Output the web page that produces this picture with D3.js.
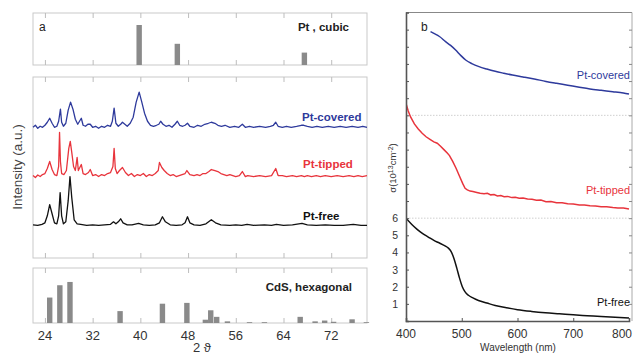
<!DOCTYPE html>
<html>
<head>
<meta charset="utf-8">
<script src="https://cdn.jsdelivr.net/npm/d3@7/dist/d3.min.js"></script>
<style>
  body { margin: 0; background: #fff; }
  svg { display: block; }
  text { font-family: Arial, "Liberation Sans", sans-serif; }
</style>
</head>
<body>
<svg id="chart" width="634" height="354"></svg>
<script>
// ---- panel a: reference patterns ----
const ptCubicPos = [39.8, 46.2, 67.5];
const ptCubicInt = [100, 53, 31];
const cdsPos = [24.8, 26.5, 28.2, 36.6, 43.7, 47.8, 50.9, 51.8, 52.8, 54.6, 58.3, 60.8, 66.8, 69.3, 70.9, 72.4, 75.5, 77.9];
const cdsInt = [62, 92, 100, 29, 47, 49, 8, 31, 15, 4, 2, 2, 15, 4, 6, 3, 9, 2];
const twoThetaTicks = [24, 32, 40, 48, 56, 64, 72];

// ---- panel a: measured XRD traces [2theta, intensity] ----
const ptFreeXrd = [[22,1],[22.8,0.5],[23.5,1.5],[24,3],[24.4,10],[24.8,21],[25.2,12],[25.6,3],[26,2],[26.3,10],[26.55,33],[26.8,10],[27.1,2],[27.5,4],[27.9,25],[28.2,49],[28.5,28],[28.9,6],[29.4,2],[30,1.5],[31,0.5],[32,1],[33,0.5],[34,1],[35,1.5],[35.5,4],[35.9,2],[36.3,4],[36.7,7],[37.1,3],[37.8,1],[38.6,1],[39.7,2.5],[40.5,1],[41.5,0.5],[42.5,1],[43.2,3],[43.7,9],[44.2,4],[45,1],[46,0.5],[47,1],[47.5,3],[47.9,9],[48.3,3],[49,1],[50,0.5],[51,2],[51.9,6],[52.6,3],[53.5,1],[55,0.5],[56,1],[57,0.5],[57.9,1.5],[59,0.5],[60.8,1],[62,0.5],[62.8,1.5],[64,0.5],[65.5,1],[67.1,2.5],[68,1],[69.5,0.5],[71,1],[72.5,0.5],[74,0.5],[75.7,1.5],[77,0.5],[78,0.5]];
const ptTippedXrd = [[22,1],[22.4,-1],[22.8,1.5],[23.2,0],[23.6,2],[24,3],[24.4,8],[24.8,15],[25.2,7],[25.6,2],[26,1],[26.3,10],[26.45,44],[26.6,15],[26.8,3],[27.2,2],[27.6,6],[28,28],[28.25,35],[28.5,24],[28.8,10],[29.1,6],[29.4,19],[29.6,6],[30.1,12],[30.4,3],[30.8,2],[31.3,4],[31.6,7],[32,1],[32.5,2],[33,0],[33.5,2],[34,1],[34.5,3],[35,4],[35.4,10],[35.6,28],[35.8,8],[36.1,3],[36.5,6],[37,9],[37.5,4],[38,1],[38.5,3],[39,0],[39.5,2],[40,1],[40.5,3],[41,0],[41.5,2],[42,1],[42.5,3],[43,6],[43.2,14],[43.6,9],[44,6],[44.5,3],[45,1],[45.5,2],[46,0],[46.5,1],[47,2],[47.5,3],[47.8,6],[48.3,2],[49,1],[49.5,2],[50,1],[50.5,3],[51,3],[51.5,5],[51.9,7],[52.5,6],[53,5],[53.5,3],[54,2],[54.5,1],[55,2],[56,0],[56.6,1],[57.1,5],[57.6,0],[58,1],[59,0],[60,1],[61,0],[62,1],[62.7,8],[63.1,1],[63.8,1],[64.5,0],[65.5,1],[66.2,0],[67,1],[67.5,0],[68,1],[68.7,0],[69.5,1],[70.2,0],[71,1],[72,0],[73,1],[74,0],[75,1],[75.8,0],[76.5,1],[77.2,0],[78,1]];
const ptCoveredXrd = [[22,0],[22.4,2],[22.8,-1],[23.2,1],[23.6,0],[24,2],[24.4,5],[24.8,9],[25.2,4],[25.6,0],[26,1],[26.3,6],[26.6,18],[26.8,5],[27.1,1],[27.5,4],[27.9,17],[28.3,25],[28.7,18],[29.1,8],[29.5,3],[30.1,9],[30.4,2],[30.8,1],[31.2,3],[31.6,3],[32,0],[32.5,1],[33,-1],[33.5,1],[34,0],[34.5,2],[35,1],[35.3,6],[35.6,19],[35.9,4],[36.3,1],[36.7,3],[37,5],[37.4,3],[37.8,1],[38.3,4],[38.8,10],[39.3,25],[39.8,35],[40.2,26],[40.7,14],[41.2,6],[41.7,2],[42.2,1],[42.7,2],[43.1,3],[43.4,6],[43.8,3],[44.3,1],[44.8,2],[45.3,0],[45.8,3],[46.2,6],[46.6,2],[47.1,1],[47.5,2],[47.9,4],[48.3,1],[49,0],[49.6,2],[50.2,1],[50.8,3],[51.4,4],[51.9,5],[52.5,4],[53,2],[53.6,1],[54.2,2],[55,0],[55.8,1],[56.5,0],[57.1,3],[57.6,0],[58.3,1],[59,0],[60,1],[61,0],[61.8,1],[62.3,2],[62.7,5],[63.1,1],[63.8,0],[64.5,1],[65.3,0],[66.2,1],[67,2],[67.4,2],[68,1],[68.8,0],[69.6,1],[70.5,0],[71.5,1],[72.5,0],[73.5,1],[74.5,0],[75.5,1],[76.5,0],[77.3,1],[78,0]];
const xrdSeries = [
  {name: 'Pt-covered', values: ptCoveredXrd, offset: 130, color: '#2e3a9c'},
  {name: 'Pt-tipped', values: ptTippedXrd, offset: 81, color: '#e8343c'},
  {name: 'Pt-free', values: ptFreeXrd, offset: 32, color: '#111'}
];

// ---- panel b: sigma vs wavelength (stacked by 6) ----
const ptFreeAbs = [[400,6.0],[410,5.65],[420,5.35],[430,5.1],[440,4.9],[450,4.7],[460,4.55],[470,4.38],[476,4.25],[481,4.05],[486,3.65],[491,3.1],[496,2.5],[501,2.0],[506,1.7],[512,1.5],[520,1.35],[530,1.2],[545,1.05],[560,0.9],[580,0.77],[600,0.66],[625,0.56],[650,0.48],[675,0.42],[700,0.36],[725,0.31],[750,0.26],[775,0.22],[800,0.18]];
const ptTippedAbs = [[400,6.7],[404,6.25],[408,5.92],[415,5.5],[422,5.2],[429,4.95],[436,4.75],[443,4.6],[450,4.45],[456,4.37],[462,4.2],[468,4.0],[474,3.8],[478,3.65],[484,3.3],[490,2.9],[496,2.45],[502,2.0],[506,1.74],[510,1.65],[515,1.58],[520,1.55],[527,1.5],[533,1.45],[540,1.42],[546,1.45],[552,1.36],[558,1.38],[564,1.3],[570,1.32],[576,1.25],[582,1.27],[590,1.2],[596,1.22],[603,1.16],[610,1.18],[618,1.12],[626,1.1],[634,1.05],[642,1.06],[651,0.96],[660,0.97],[670,0.9],[680,0.9],[690,0.84],[700,0.82],[711,0.77],[720,0.77],[730,0.72],[740,0.71],[750,0.66],[760,0.66],[771,0.62],[780,0.6],[790,0.59],[800,0.53]];
const ptCoveredAbs = [[444,4.88],[450,4.78],[460,4.6],[471,4.3],[480,4.08],[489,3.81],[498,3.5],[507,3.23],[518,3.02],[531,2.84],[545,2.7],[560,2.57],[575,2.46],[591,2.35],[610,2.24],[630,2.12],[651,1.98],[670,1.87],[690,1.76],[711,1.64],[730,1.54],[750,1.46],[771,1.38],[790,1.3],[800,1.24]];
const absSeries = [
  {name: 'Pt-covered', values: ptCoveredAbs, offset: 12, color: '#2e3a9c', labelY: 14.12},
  {name: 'Pt-tipped', values: ptTippedAbs, offset: 6, color: '#e8343c', labelY: 7.41},
  {name: 'Pt-free', values: ptFreeAbs, offset: 0, color: '#111', labelY: 0.88}
];
const wavelengthTicks = [400, 500, 600, 700, 800];
const sigmaTicks = [1, 2, 3, 4, 5, 6];

const svg = d3.select('#chart');

function drawPanelA() {
  const left = 33, right = 367;
  const x = d3.scaleLinear().domain([22, 78]).range([left, right]);
  const boxes = [{y0: 13, y1: 65}, {y0: 77, y1: 258}, {y0: 268, y1: 323}];

  boxes.forEach((b) => {
    svg.append('rect')
      .attr('x', left).attr('y', b.y0)
      .attr('width', right - left).attr('height', b.y1 - b.y0)
      .attr('fill', 'none').attr('stroke', '#c9c9c9');
    // inward ticks top and bottom
    svg.append('g').attr('transform', `translate(0,${b.y1})`)
      .call(d3.axisBottom(x).tickValues(twoThetaTicks).tickSize(-5).tickFormat(''))
      .call((g) => g.select('.domain').remove())
      .selectAll('line').attr('stroke', '#bdbdbd');
    svg.append('g').attr('transform', `translate(0,${b.y0})`)
      .call(d3.axisTop(x).tickValues(twoThetaTicks).tickSize(-5).tickFormat(''))
      .call((g) => g.select('.domain').remove())
      .selectAll('line').attr('stroke', '#bdbdbd');
  });

  // Pt cubic sticks
  const yTop = d3.scaleLinear().domain([0, 130]).range([65, 13]);
  svg.selectAll('.ptbar').data(ptCubicPos).enter().append('rect')
    .attr('class', 'ptbar')
    .attr('x', (d) => x(d) - 2.7).attr('width', 5.4)
    .attr('y', (d, i) => yTop(ptCubicInt[i]))
    .attr('height', (d, i) => yTop(0) - yTop(ptCubicInt[i]))
    .attr('fill', '#8a8a8a');

  // CdS hexagonal sticks
  const yBot = d3.scaleLinear().domain([0, 134]).range([323, 268]);
  svg.selectAll('.cdsbar').data(cdsPos).enter().append('rect')
    .attr('class', 'cdsbar')
    .attr('x', (d) => x(d) - 2.7).attr('width', 5.4)
    .attr('y', (d, i) => yBot(cdsInt[i]))
    .attr('height', (d, i) => yBot(0) - yBot(cdsInt[i]))
    .attr('fill', '#8a8a8a');

  // XRD traces
  const yMid = d3.scaleLinear().domain([0, 180]).range([258, 77]);
  xrdSeries.forEach((s) => {
    const line = d3.line()
      .x((d) => x(d[0]))
      .y((d) => yMid(d[1] + s.offset));
    svg.append('path').datum(s.values)
      .attr('d', line)
      .attr('fill', 'none').attr('stroke', s.color).attr('stroke-width', 1.3)
      .attr('stroke-linejoin', 'round');
  });

  const labels = [['Pt-covered', 302, 121, '#2e3a9c'], ['Pt-tipped', 303, 168, '#e8343c'], ['Pt-free', 303, 220, '#111']];
  labels.forEach((l) => {
    svg.append('text').attr('x', l[1]).attr('y', l[2])
      .attr('font-size', 11.5).attr('font-weight', 'bold').attr('fill', l[3]).text(l[0]);
  });

  svg.append('text').attr('x', 39).attr('y', 31).attr('font-size', 12).attr('fill', '#222').text('a');
  svg.append('text').attr('x', 349).attr('y', 31).attr('text-anchor', 'end')
    .attr('font-size', 11.5).attr('font-weight', 'bold').attr('fill', '#222').text('Pt , cubic');
  svg.append('text').attr('x', 352).attr('y', 291).attr('text-anchor', 'end')
    .attr('font-size', 11.5).attr('font-weight', 'bold').attr('fill', '#222').text('CdS, hexagonal');

  // tick labels
  svg.selectAll('.xlab').data(twoThetaTicks).enter().append('text')
    .attr('class', 'xlab')
    .attr('x', (d) => x(d)).attr('y', 340)
    .attr('text-anchor', 'middle').attr('font-size', 13).attr('fill', '#333')
    .text((d) => d);
  svg.append('text').attr('x', 202).attr('y', 352).attr('text-anchor', 'middle')
    .attr('font-size', 13).attr('fill', '#333').text('2 ϑ');

  svg.append('text')
    .attr('transform', 'translate(22,167) rotate(-90)')
    .attr('text-anchor', 'middle').attr('font-size', 13.5).attr('fill', '#444')
    .text('Intensity (a.u.)');
}

function drawPanelB() {
  const x = d3.scaleLinear().domain([400, 800]).range([406, 629]);
  const y = d3.scaleLinear().domain([0, 18]).range([321, 12.5]);

  // separators
  [6, 12].forEach((v) => {
    svg.append('line')
      .attr('x1', x(400)).attr('x2', x(800)).attr('y1', y(v)).attr('y2', y(v))
      .attr('stroke', '#cfcfcf').attr('stroke-dasharray', '1.5,1.5');
  });

  // frame top / right
  svg.append('line').attr('x1', x(400)).attr('x2', x(800) + 3).attr('y1', y(18)).attr('y2', y(18))
    .attr('stroke', '#888').attr('stroke-width', 1.2);
  svg.append('line').attr('x1', x(800) + 3).attr('x2', x(800) + 3).attr('y1', y(18)).attr('y2', y(0))
    .attr('stroke', '#aaa');

  svg.append('clipPath').attr('id', 'clipb').append('rect')
    .attr('x', x(400)).attr('y', y(18)).attr('width', x(800) - x(400) + 3).attr('height', y(0) - y(18));

  absSeries.forEach((s) => {
    const line = d3.line()
      .x((d) => x(d[0]))
      .y((d) => y(d[1] + s.offset))
      .curve(s.name === 'Pt-tipped' ? d3.curveLinear : d3.curveMonotoneX);
    svg.append('path').datum(s.values)
      .attr('clip-path', 'url(#clipb)')
      .attr('d', line)
      .attr('fill', 'none').attr('stroke', s.color).attr('stroke-width', 1.5);
    svg.append('text').attr('x', 630).attr('y', y(s.labelY)).attr('text-anchor', 'end')
      .attr('font-size', 11).attr('fill', s.color).text(s.name);
  });

  // left axis with ticks each unit
  const leftAxis = svg.append('g').attr('transform', `translate(${x(400)},0)`)
    .call(d3.axisLeft(y).tickValues(d3.range(1, 18)).tickSize(-3).tickFormat(''));
  leftAxis.select('.domain').attr('stroke', '#555').attr('stroke-width', 1.6);
  leftAxis.selectAll('line').attr('stroke', '#555');

  // right side inward ticks
  svg.append('g').attr('transform', `translate(${x(800) + 3},0)`)
    .call(d3.axisRight(y).tickValues(d3.range(1, 18)).tickSize(-3).tickFormat(''))
    .call((g) => g.select('.domain').remove())
    .selectAll('line').attr('stroke', '#888');

  svg.selectAll('.ylab').data(sigmaTicks).enter().append('text')
    .attr('class', 'ylab')
    .attr('x', 398).attr('y', (d) => y(d) + 4)
    .attr('text-anchor', 'end').attr('font-size', 10.5).attr('fill', '#333')
    .text((d) => d);

  const bottomAxis = svg.append('g').attr('transform', `translate(0,${y(0)})`)
    .call(d3.axisBottom(x).tickValues(wavelengthTicks).tickSize(-3).tickFormat(''));
  bottomAxis.select('.domain').attr('stroke', '#555').attr('stroke-width', 1.6);
  bottomAxis.selectAll('line').attr('stroke', '#555');

  svg.selectAll('.wlab').data(wavelengthTicks).enter().append('text')
    .attr('class', 'wlab')
    .attr('x', (d) => Math.min(x(d), 622)).attr('y', 338)
    .attr('text-anchor', 'middle').attr('font-size', 12).attr('fill', '#333')
    .text((d) => d);

  svg.append('text').attr('x', 518).attr('y', 351).attr('text-anchor', 'middle')
    .attr('font-size', 10).attr('fill', '#333').text('Wavelength (nm)');

  svg.append('text').attr('x', 421).attr('y', 31).attr('font-size', 12).attr('fill', '#222').text('b');

  const yl = svg.append('text')
    .attr('transform', 'translate(396,168) rotate(-90)')
    .attr('text-anchor', 'middle').attr('font-size', 9.5).attr('fill', '#333');
  yl.append('tspan').text('σ(10');
  yl.append('tspan').attr('font-size', 7).attr('dy', -3.5).text('13');
  yl.append('tspan').attr('dy', 3.5).text('cm');
  yl.append('tspan').attr('font-size', 7).attr('dy', -3.5).text('-2');
  yl.append('tspan').attr('dy', 3.5).text(')');
}

drawPanelA();
drawPanelB();
</script>
</body>
</html>
